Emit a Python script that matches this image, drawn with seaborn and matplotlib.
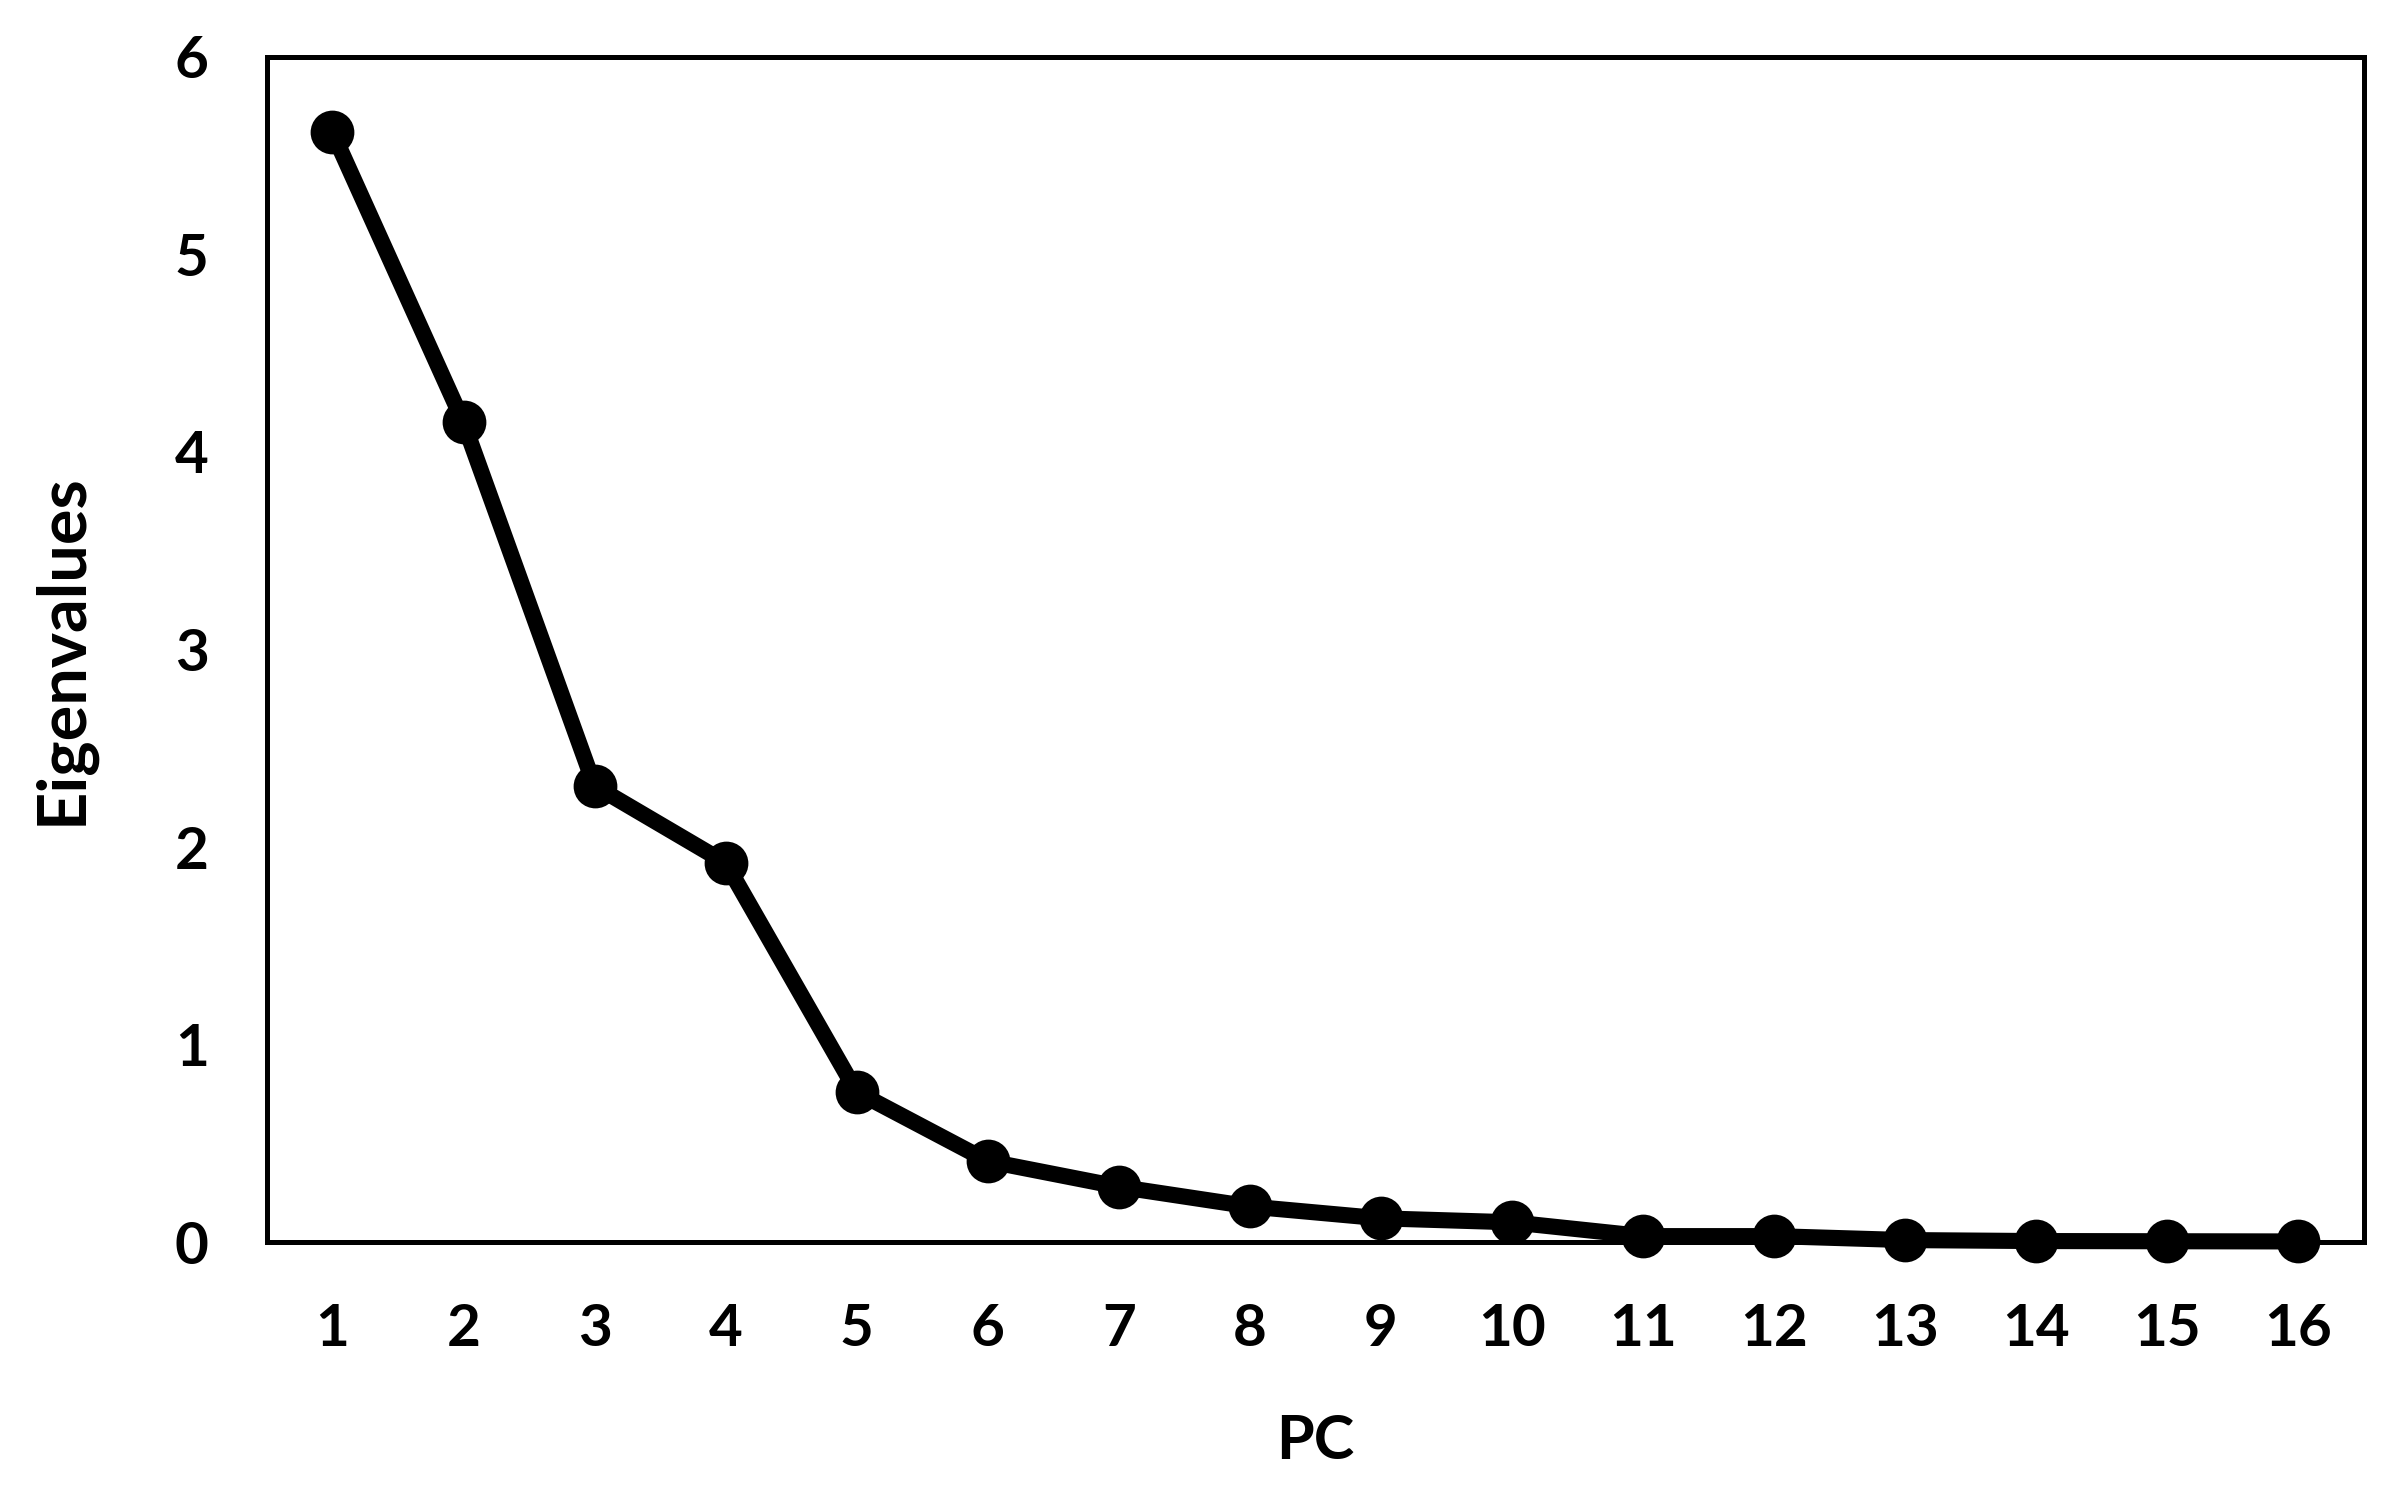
import matplotlib
matplotlib.use("Agg")
import matplotlib.pyplot as plt
import seaborn as sns
import pandas as pd

pcs = list(range(1, 17))
eigenvalues = [5.62, 4.15, 2.31, 1.92, 0.76, 0.41, 0.28, 0.18, 0.12, 0.10,
               0.03, 0.03, 0.01, 0.005, 0.004, 0.003]
y_ticks = [0, 1, 2, 3, 4, 5, 6]

sns.set_style("white")
plt.rcParams['font.family'] = ['Lato', 'DejaVu Sans']
plt.rcParams['font.weight'] = 'bold'

df = pd.DataFrame({"PC": pcs, "Eigenvalues": eigenvalues})

fig = plt.figure(figsize=(11.98, 7.555), dpi=200)
ax = fig.add_axes([0.1114, 0.178, 0.8752, 0.7843])

sns.lineplot(data=df, x="PC", y="Eigenvalues", ax=ax, color="black",
             linewidth=5.8, marker="o", markersize=15, markeredgecolor="black",
             markerfacecolor="black", clip_on=False)

ax.set_xlim(0.5, 16.5)
ax.set_ylim(0, 6)
ax.set_xticks(pcs)
ax.set_xticklabels([str(p) for p in pcs])
ax.set_yticks(y_ticks)
ax.set_yticklabels([str(t) for t in y_ticks])

for s in ax.spines.values():
    s.set_visible(True)
    s.set_color("black")
    s.set_linewidth(1.8)

ax.tick_params(axis="both", length=0, labelsize=21, colors="black")
ax.tick_params(axis="y", pad=21)
ax.tick_params(axis="x", pad=22)
for lab in ax.get_xticklabels() + ax.get_yticklabels():
    lab.set_fontweight("bold")

ax.set_xlabel("PC", fontsize=22, fontweight="bold", color="black")
ax.set_ylabel("Eigenvalues", fontsize=24, fontweight="bold", color="black")
ax.xaxis.set_label_coords(0.5, -0.144)
ax.yaxis.set_label_coords(-0.082, 0.5)
ax.grid(False)

fig.savefig("out.png", dpi=200, facecolor="white")
